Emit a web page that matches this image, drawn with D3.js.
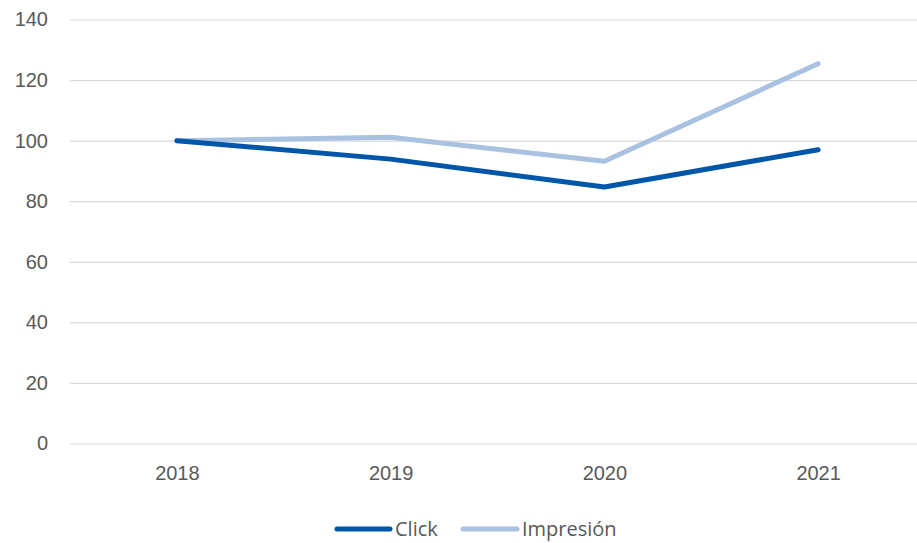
<!DOCTYPE html>
<html>
<head>
<meta charset="utf-8">
<script src="https://cdn.jsdelivr.net/npm/d3@7"></script>
<style>
  html, body { margin: 0; padding: 0; background: #fff; }
  svg { display: block; font-family: "Open Sans", "Noto Sans", sans-serif; }
</style>
</head>
<body>
<svg id="chart" width="917" height="543"></svg>
<script>
// Yearly index (2018 = 100)
const years = ["2018", "2019", "2020", "2021"];
const clickValues = [100, 93.9, 84.7, 97.0];
const impresionValues = [100, 101.1, 93.2, 125.4];
const yTicks = [0, 20, 40, 60, 80, 100, 120, 140];

const series = [
  { name: "Click", values: clickValues, color: "#0056A8" },
  { name: "Impresión", values: impresionValues, color: "#A9C2E2" }
];

const fontSize = 20;
const svg = d3.select("#chart");
const plot = { left: 70, right: 925, top: 19.5, bottom: 443.5 };

const x = d3.scalePoint().domain(years).range([plot.left, plot.right]).padding(0.5);
const y = d3.scaleLinear().domain([0, 140]).range([plot.bottom, plot.top]);

// Gridlines and value labels
const yAxis = svg.append("g")
  .attr("transform", `translate(${plot.left},0)`)
  .call(d3.axisLeft(y).tickValues(yTicks).tickSize(-(plot.right - plot.left)).tickPadding(22));
yAxis.select(".domain").remove();
yAxis.selectAll(".tick line").attr("stroke", "#d9d9d9").attr("stroke-width", 1.2);
yAxis.selectAll(".tick text")
  .attr("fill", "#595959").attr("font-size", fontSize);

// Category labels
const xAxis = svg.append("g")
  .attr("transform", `translate(0,${plot.bottom})`)
  .call(d3.axisBottom(x).tickSize(0).tickPadding(22));
xAxis.select(".domain").remove();
xAxis.selectAll(".tick text")
  .attr("fill", "#595959").attr("font-size", fontSize);

// Series lines
const line = d3.line()
  .x((d, i) => x(years[i]))
  .y(d => y(d));

svg.append("g").selectAll("path")
  .data(series.slice().reverse())
  .join("path")
  .attr("d", d => line(d.values))
  .attr("fill", "none")
  .attr("stroke", d => d.color)
  .attr("stroke-width", 5)
  .attr("stroke-linejoin", "round")
  .attr("stroke-linecap", "round");

// Legend
const legendItems = [
  { s: series[0], x0: 337, x1: 390, tx: 395 },
  { s: series[1], x0: 463, x1: 517, tx: 522 }
];
const legend = svg.append("g").attr("transform", "translate(0,529)");
legendItems.forEach(it => {
  legend.append("line")
    .attr("x1", it.x0).attr("x2", it.x1)
    .attr("stroke", it.s.color).attr("stroke-width", 5).attr("stroke-linecap", "round");
  legend.append("text")
    .attr("x", it.tx).attr("y", 0).attr("dy", "0.35em")
    .attr("fill", "#595959").attr("font-size", fontSize)
    .text(it.s.name);
});
</script>
</body>
</html>
